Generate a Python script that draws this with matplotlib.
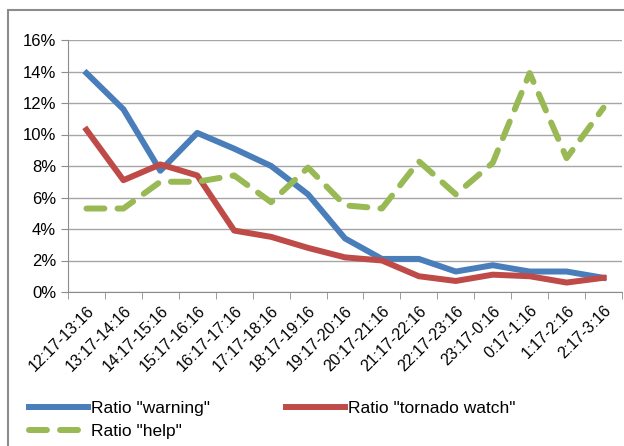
import matplotlib.pyplot as plt
import numpy as np
from matplotlib.patches import Rectangle
from matplotlib.ticker import PercentFormatter

# time windows (x categories)
periods = ['12:17-13:16', '13:17-14:16', '14:17-15:16', '15:17-16:16',
           '16:17-17:16', '17:17-18:16', '18:17-19:16', '19:17-20:16',
           '20:17-21:16', '21:17-22:16', '22:17-23:16', '23:17-0:16',
           '0:17-1:16', '1:17-2:16', '2:17-3:16']

# ratios in percent
warning = [13.9, 11.6, 7.7, 10.1, 9.1, 8.0, 6.2, 3.4, 2.1, 2.1, 1.3, 1.7, 1.3, 1.3, 0.9]
tornado_watch = [10.3, 7.1, 8.1, 7.4, 3.9, 3.5, 2.8, 2.2, 2.0, 1.0, 0.7, 1.1, 1.0, 0.6, 0.9]
help_ = [5.3, 5.3, 7.0, 7.0, 7.4, 5.7, 7.9, 5.5, 5.3, 8.3, 6.2, 8.2, 13.9, 8.5, 11.7]

plt.rcParams['font.family'] = ['Liberation Sans', 'DejaVu Sans']

W, H = 624, 446
fig = plt.figure(figsize=(W / 100, H / 100), dpi=100)
ax = fig.add_axes([68 / W, 1 - 292 / H, (622 - 68) / W, (292 - 40) / H])

# chart border
fig.patches.append(Rectangle((8 / W, -0.1), 1.0, 1 - 10 / H + 0.1, transform=fig.transFigure,
                             fill=False, edgecolor='#8c8c8c', linewidth=1.5))

x = np.arange(len(periods))
lw = 4.3
l1, = ax.plot(x, warning, color='#4a7ebb', lw=lw, solid_joinstyle='round', label='Ratio "warning"')
l2, = ax.plot(x, tornado_watch, color='#be4b48', lw=lw, solid_joinstyle='round',
              label='Ratio "tornado watch"')
l3, = ax.plot(x, help_, color='#98b954', lw=lw, dashes=(3.0, 2.2), dash_capstyle='round',
              label='Ratio "help"')

ax.set_xlim(-0.5, len(periods) - 0.5)
ax.set_ylim(0, 16)
ax.set_yticks(np.arange(0, 17, 2))
ax.yaxis.set_major_formatter(PercentFormatter(decimals=0))
ax.grid(axis='y', color='#a6a6a6', linewidth=1)
ax.set_axisbelow(True)

for s in ['top', 'right']:
    ax.spines[s].set_visible(False)
ax.spines['left'].set_color('#8c8c8c')
ax.spines['bottom'].set_color('#8c8c8c')

ax.set_xticks(x)
ax.set_xticklabels(periods, rotation=45, ha='right', va='top', rotation_mode='anchor', fontsize=11.5)
ax.tick_params(axis='x', which='major', length=0, pad=8)
ax.set_xticks(np.arange(-0.5, len(periods), 1), minor=True)
ax.tick_params(axis='x', which='minor', length=5, color='#8c8c8c')
ax.tick_params(axis='y', length=5, color='#8c8c8c', labelsize=12)

# order so that rows read warning / tornado watch, then help
fig.legend([l1, l3, l2], [l1.get_label(), l3.get_label(), l2.get_label()],
           loc='lower left', bbox_to_anchor=(22 / W, 0), ncol=2, frameon=False, fontsize=12.5,
           handlelength=3.4, handletextpad=0.15, columnspacing=4.4, labelspacing=0.45,
           borderaxespad=0.0)

fig.savefig('out.png', dpi=100)
